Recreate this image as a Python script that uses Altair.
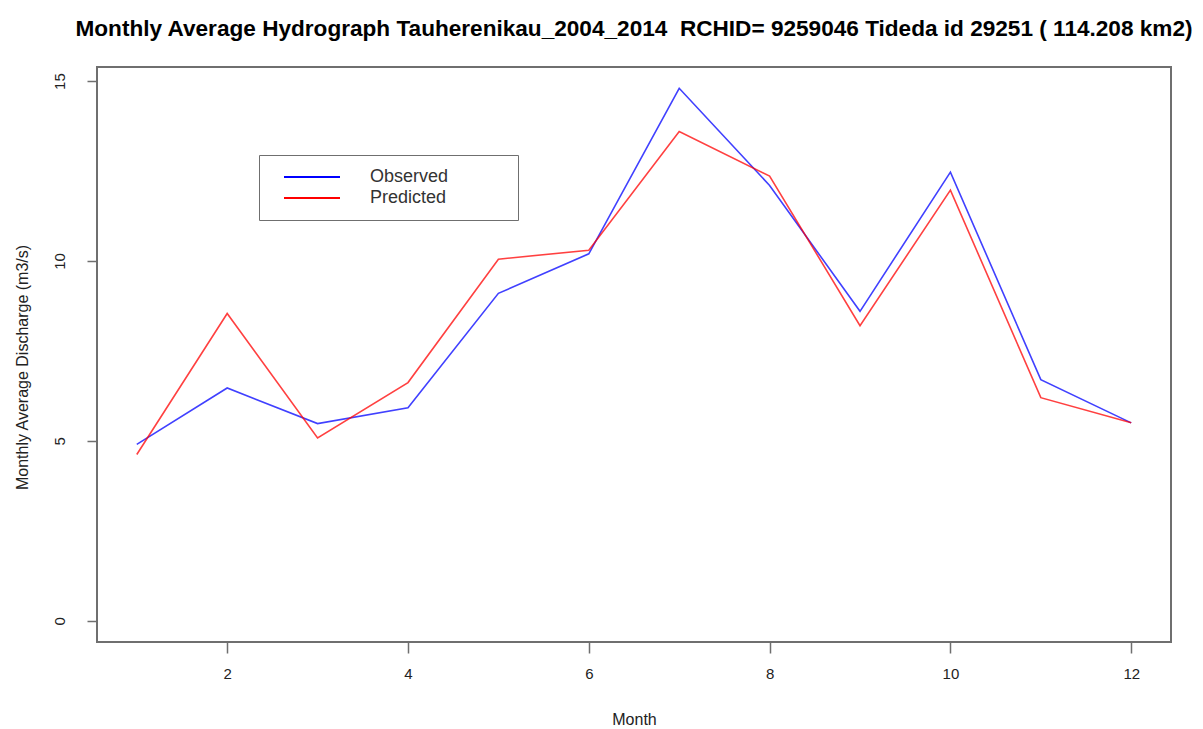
import altair as alt
import pandas as pd

# Monthly average discharge (m3/s), 2004-2014
months = [1, 2, 3, 4, 5, 6, 7, 8, 9, 10, 11, 12]
observed = [4.9, 6.47, 5.48, 5.92, 9.1, 10.2, 14.8, 12.1, 8.6, 12.47, 6.7, 5.5]
predicted = [4.62, 8.54, 5.08, 6.62, 10.05, 10.3, 13.6, 12.36, 8.2, 11.97, 6.2, 5.5]
series_names = ["Observed", "Predicted"]
series_colors = ["#0000ff", "#ff0000"]
x_ticks = [2, 4, 6, 8, 10, 12]
y_ticks = [0, 5, 10, 15]

df = pd.concat([
    pd.DataFrame({"Month": months, "Discharge": observed, "Series": series_names[0]}),
    pd.DataFrame({"Month": months, "Discharge": predicted, "Series": series_names[1]}),
])

FONT = "Liberation Sans"
GREY = "#6f6f6f"
TITLE = ("Monthly Average Hydrograph Tauherenikau_2004_2014\u00a0 RCHID= 9259046 "
         "Tideda id 29251 ( 114.208 km2)")

# Legend key: a short horizontal stroke; the trailing move-to widens the
# legend frame to the right without drawing anything.
LEGEND_SYMBOL = "M-4,0H4M27,0"

chart = alt.Chart(df).mark_line(strokeWidth=1.6, opacity=0.75).encode(
    x=alt.X(
        "Month:Q",
        scale=alt.Scale(domain=[0.56, 12.44], nice=False, zero=False),
        axis=alt.Axis(
            values=x_ticks, title="Month", grid=False, domain=False,
            tickSize=11, tickColor=GREY, tickWidth=1.5,
            labelFontSize=15, labelPadding=13, labelColor="#222",
            titleFontSize=16, titleFontWeight="normal", titlePadding=30,
            titleColor="#222",
        ),
    ),
    y=alt.Y(
        "Discharge:Q",
        scale=alt.Scale(domain=[-0.592, 15.392], nice=False, zero=False),
        axis=alt.Axis(
            values=y_ticks, title="Monthly Average Discharge (m3/s)", grid=False,
            domain=False, tickSize=10, tickColor=GREY, tickWidth=1.5,
            labelFontSize=15, labelAngle=270, labelAlign="center",
            labelBaseline="bottom", labelPadding=20, labelColor="#222",
            titleFontSize=16, titleFontWeight="normal", titleColor="#222",
            titleAngle=270, titleAlign="center", titleBaseline="middle",
            titleX=-75, titleY=300,
        ),
    ),
    color=alt.Color(
        "Series:N",
        scale=alt.Scale(domain=series_names, range=series_colors),
        legend=alt.Legend(
            title=None, orient="none", legendX=162, legendY=88,
            symbolType=LEGEND_SYMBOL, symbolSize=196, symbolStrokeWidth=2,
            symbolOpacity=1, labelFontSize=18, labelOffset=49,
            labelColor="#333", rowPadding=3, padding=13,
            strokeColor=GREY, fillColor="white", symbolOffset=31,
        ),
    ),
).properties(
    width=1074,
    height=575,
    title=alt.TitleParams(
        TITLE, fontSize=22.6, fontWeight="bold", font=FONT, anchor="middle",
        offset=26, color="#000",
    ),
    autosize=alt.AutoSizeParams(type="none"),
    padding={"left": 97, "top": 67, "right": 32, "bottom": 87},
    background="white",
).configure(
    font=FONT,
).configure_view(
    stroke=GREY, strokeWidth=2,
)

chart.save("out.html", embed_options={"renderer": "svg", "actions": False})
